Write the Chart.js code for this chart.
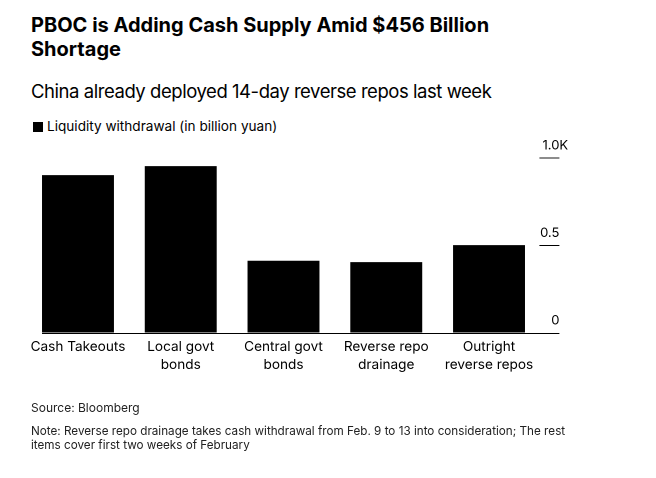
<!DOCTYPE html>
<html>
<head>
<meta charset="utf-8">
<script src="https://cdn.jsdelivr.net/npm/chart.js@4.4.1/dist/chart.umd.min.js"></script>
<style>
  html, body { margin: 0; padding: 0; background: #fff; }
  body { width: 656px; height: 478px; position: relative; overflow: hidden; font-family: Inter, "Noto Sans", sans-serif; color: #000; }
  #title { position: absolute; left: 31px; top: 13px; width: 520px; font-size: 20px; line-height: 24px; font-weight: 700; letter-spacing: 0; }
  #subtitle { position: absolute; left: 31px; top: 79.5px; font-size: 18.5px; line-height: 23px; font-weight: 400; white-space: nowrap; letter-spacing: -0.45px; }
  #legend { position: absolute; left: 33px; top: 118px; font-size: 13.6px; line-height: 17px; white-space: nowrap; }
  #legend .sw { display: inline-block; width: 10px; height: 10px; background: #000; margin-right: 4px; vertical-align: -1px; }
  #source { position: absolute; left: 31px; top: 400px; font-size: 12px; line-height: 15px; color: #222; }
  #note { position: absolute; left: 31px; top: 425px; width: 560px; font-size: 11.7px; line-height: 13.5px; color: #222; }
  #chart { position: absolute; left: 0; top: 0; }
</style>
</head>
<body>
<div id="title">PBOC is Adding Cash Supply Amid $456 Billion Shortage</div>
<div id="subtitle">China already deployed 14-day reverse repos last week</div>
<div id="legend"><span class="sw"></span>Liquidity withdrawal (in billion yuan)</div>
<canvas id="chart" width="656" height="478"></canvas>
<div id="source">Source: Bloomberg</div>
<div id="note">Note: Reverse repo drainage takes cash withdrawal from Feb. 9 to 13 into consideration; The rest items cover first two weeks of February</div>
<script>
// ---- data ----
const categories = [
  ['Cash Takeouts'],
  ['Local govt', 'bonds'],
  ['Central govt', 'bonds'],
  ['Reverse repo', 'drainage'],
  ['Outright', 'reverse repos']
];
const seriesName = 'Liquidity withdrawal (in billion yuan)';
const withdrawal = [900, 952, 411, 403, 500];
const tickValues = [0, 500, 1000];
const tickLabels = ['0', '0.5', '1.0K'];

Chart.defaults.font.family = 'Inter, "Noto Sans", sans-serif';
Chart.defaults.color = '#000';

const axisDecor = {
  id: 'axisDecor',
  afterDatasetsDraw(chart) {
    const ctx = chart.ctx;
    const y = chart.scales.y;
    const area = chart.chartArea;
    const bar0 = chart.getDatasetMeta(0).data[0];
    const lineStart = area.right - 1;
    const lineEnd = area.right + 19;
    ctx.save();
    ctx.font = '13px Inter, "Noto Sans", sans-serif';
    ctx.textBaseline = 'alphabetic';
    y.ticks.forEach((t) => {
      const idx = tickValues.indexOf(t.value);
      if (idx < 0) return;
      const py = y.getPixelForValue(t.value);
      const isTop = t.value === y.max;
      ctx.beginPath();
      ctx.strokeStyle = isTop ? '#8c8c8c' : '#000';
      ctx.lineWidth = isTop ? 2 : 1;
      const sx = (t.value === 0) ? (bar0.x - bar0.width / 2) : lineStart;
      const yy = isTop ? Math.round(py) : Math.round(py) + 0.5;
      ctx.moveTo(sx, yy);
      ctx.lineTo(lineEnd, yy);
      ctx.stroke();
      const label = tickLabels[idx];
      const m = label.match(/^([0-9.]+)(.*)$/);
      const num = m ? m[1] : label;
      const suf = m ? m[2] : '';
      ctx.fillStyle = '#000';
      ctx.textAlign = 'right';
      ctx.fillText(num, lineEnd, py - 8);
      if (suf) {
        ctx.textAlign = 'left';
        ctx.fillText(suf, lineEnd, py - 8);
      }
    });
    ctx.restore();
  }
};

new Chart(document.getElementById('chart'), {
  type: 'bar',
  data: {
    labels: categories,
    datasets: [{
      label: seriesName,
      data: withdrawal,
      backgroundColor: '#000',
      borderWidth: 0,
      categoryPercentage: 1.0,
      barPercentage: 0.7
    }]
  },
  options: {
    responsive: false,
    animation: false,
    devicePixelRatio: 2,
    layout: { padding: { left: 26.6, right: 115.6, top: 157.7, bottom: 99 } },
    plugins: { legend: { display: false }, title: { display: false }, tooltip: { enabled: false } },
    scales: {
      x: {
        grid: { display: false, drawTicks: false },
        border: { display: false },
        ticks: { padding: 5, maxRotation: 0, autoSkip: false, font: { size: 13.6, lineHeight: 1.34 }, color: '#000' }
      },
      y: {
        display: false,
        min: 0,
        max: 1000,
        ticks: { stepSize: 500 }
      }
    }
  },
  plugins: [axisDecor]
});
</script>
</body>
</html>
